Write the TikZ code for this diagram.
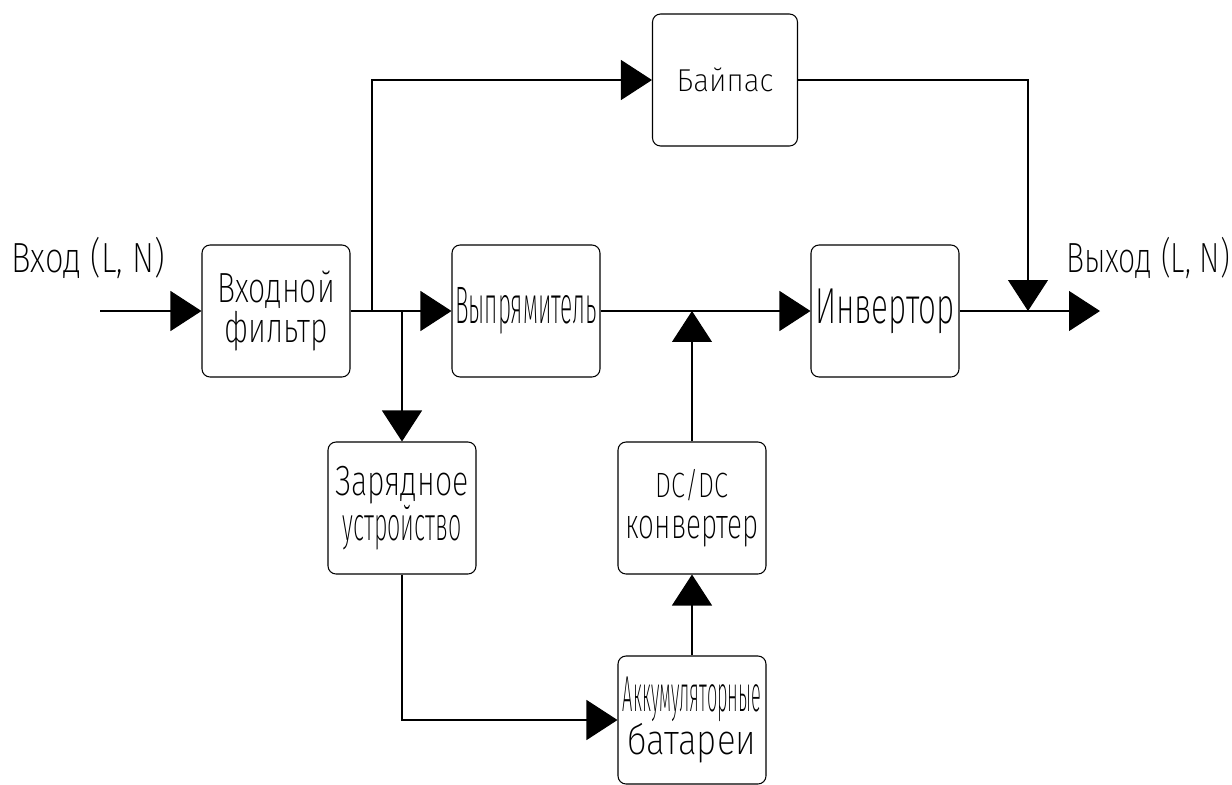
\documentclass[tikz,border=0pt]{standalone}
\usepackage{fontspec}
\setmainfont{Fira Sans ExtraLight}[FakeStretch=0.72]
\usetikzlibrary{arrows.meta}

\tikzset{
    blok/.style = {draw, rounded corners = 0.16cm, line width = 0.6pt,
                   minimum width = 2.96cm, minimum height = 2.64cm,
                   align = center, inner sep = 0pt},
    strelka/.style = {-{Triangle[length=0.62cm,width=0.8cm]}, line width = 0.6pt},
    linia/.style = {line width = 0.6pt}
}

\begin{document}
\begin{tikzpicture}[x = 0.02cm, y = -0.02cm, font = \fontsize{24}{23}\selectfont]
        \useasboundingbox (0,0) rectangle (1232,785);

        % bloki
        \node[blok] (filtr) at (276,311) {Входной\\фильтр};
        \node[blok] (vypr) at (526,311) {\scalebox{0.75}[1.25]{Выпрямитель}};
        \node[blok] (invert) at (885,311) {\scalebox{1.04}[1.2]{Инвертор}};
        \node[blok, minimum width = 2.9cm] (bypass) at (725,80) {\fontsize{18}{20}\selectfont\scalebox{1.3}[1]{Байпас}};
        \node[blok] (zaryad) at (402,508) {Зарядное\\\scalebox{0.77}[1.12]{устройство}};
        \node[blok] (dcdc) at (692,508) {{\fontsize{20}{20}\selectfont DC/DC}\\\scalebox{0.92}[1]{конвертер}};
        \node[blok, minimum height = 2.56cm] (akb) at (692,720) {\scalebox{0.6}[1.2]{Аккумуляторные}\\\scalebox{1.15}[1]{батареи}};

        % nadpisi
        \node (vhod) at (88,258) {\scalebox{1.08}[1]{Вход (L, N)}};
        \node (vyhod) at (1148,258) {Выход (L, N)};

        % uzly
        \coordinate (start) at (100,311);
        \coordinate (uzel1) at (372,311);
        \coordinate (uzel2) at (402,311);
        \coordinate (uzel3) at (692,311);
        \coordinate (uzel4) at (1028,311);
        \coordinate (konec) at (1100,311);

        % svyazi
        \draw[strelka] (start) -- (filtr.west);
        \draw[strelka] (filtr.east) -- (vypr.west);
        \draw[strelka] (uzel1) |- (bypass.west);
        \draw[strelka] (uzel2) -- (zaryad.north);
        \draw[strelka] (vypr.east) -- (invert.west);
        \draw[strelka] (dcdc.north) -- (uzel3);
        \draw[strelka] (invert.east) -- (konec);
        \draw[strelka] (bypass.east) -| (uzel4);
        \draw[strelka] (zaryad.south) |- (akb.west);
        \draw[strelka] (akb.north) -- (dcdc.south);
    \end{tikzpicture}
\end{document}
